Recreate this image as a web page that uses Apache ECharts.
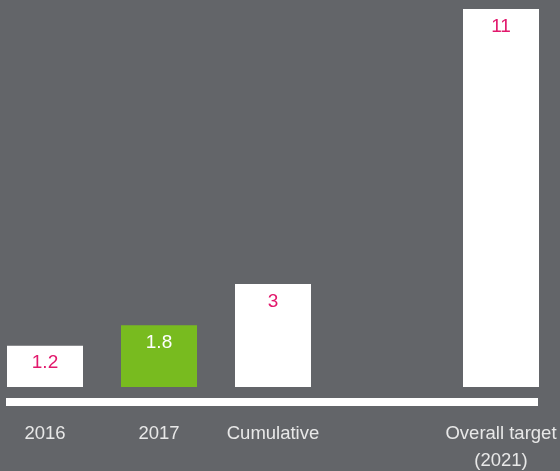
<!DOCTYPE html>
<html><head><meta charset="utf-8">
<script src="https://cdn.jsdelivr.net/npm/echarts@6/dist/echarts.min.js"></script>
<style>html,body{margin:0;padding:0;background:#636569;}#c{width:560px;height:471px;}</style>
</head><body><div id="c"></div>
<script>
const categories = ['2016', '2017', 'Cumulative', '', 'Overall target\n(2021)'];
const values = [1.2, 1.8, 3, null, 11];
const highlighted = [false, true, false, false, false];

const chart = echarts.init(document.getElementById('c'));
const data = values.map((v, i) => ({
  value: v == null ? '-' : v,
  itemStyle: { color: highlighted[i] ? '#78bb1f' : '#ffffff' },
  label: { color: highlighted[i] ? '#ffffff' : '#e2186c' }
}));
chart.setOption({
  backgroundColor: '#636569',
  animation: false,
  grid: { left: -12, right: 2, top: 9, bottom: 84, containLabel: false, outerBoundsMode: 'none' },
  xAxis: {
    type: 'category', data: categories,
    axisLine: { show: false }, axisTick: { show: false },
    axisLabel: { color: '#e8e8e8', fontSize: 18.5, fontFamily: 'Liberation Sans', margin: 33, lineHeight: 27, interval: 0 }
  },
  yAxis: { type: 'value', min: 0, max: 11, show: false, splitLine: { show: false } },
  series: [{
    type: 'bar', data: data, barWidth: 76,
    label: { show: true, position: 'insideTop', distance: 8, fontSize: 19, fontFamily: 'Liberation Sans' }
  }],
  graphic: [{ type: 'rect', shape: { x: 6, y: 398, width: 532, height: 8 }, style: { fill: '#ffffff' } }]
});
</script></body></html>
